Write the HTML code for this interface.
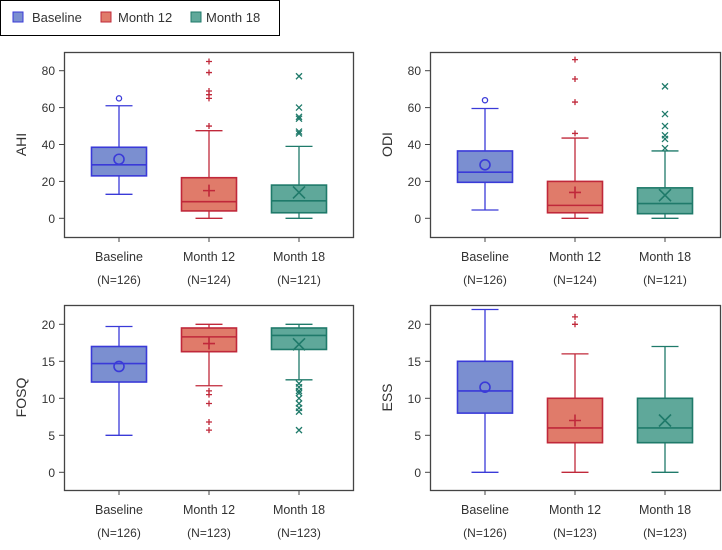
<!DOCTYPE html>
<html><head><meta charset="utf-8"><style>
body{margin:0;background:#fff;width:722px;height:545px;overflow:hidden}
svg text{font-family:"Liberation Sans",sans-serif;fill:#333}
</style></head><body>
<svg id="c" width="722" height="545">
<g>
<rect x="0.5" y="0.5" width="279" height="35" fill="#fff" stroke="#000"/>
<rect x="13" y="12" width="10" height="10" fill="#7b8fd0" stroke="#3a3ad8"/>
<text x="32" y="22" font-size="13">Baseline</text>
<rect x="101" y="12" width="10" height="10" fill="#e07b6a" stroke="#c0283a"/>
<text x="118" y="22" font-size="13">Month 12</text>
<rect x="191" y="12" width="10" height="10" fill="#5fa89a" stroke="#1f7a6a"/>
<text x="206" y="22" font-size="13">Month 18</text>
</g>
</svg>
<script>
const categories=["Baseline","Month 12","Month 18"];
const ahiStats=[[13,23,29,38.5,61],[0,4,9,22,47.5],[0,3,9.5,18,39]];
const ahiMeans=[32,15,14];
const ahiOutliers=[[65],[50,65,67,69,79,85],[46,47,54,55,60,77]];
const ahiN=["(N=126)","(N=124)","(N=121)"];
const odiStats=[[4.5,19.5,25,36.5,59.5],[0,3,7,20,43.5],[0,2.5,8,16.5,36.5]];
const odiMeans=[29,14,12.5];
const odiOutliers=[[64],[46,63,75.5,86],[38,43,45,50,56.5,71.5]];
const odiN=["(N=126)","(N=124)","(N=121)"];
const fosqStats=[[5,12.2,14.7,17,19.7],[11.7,16.3,18.3,19.5,20],[12.5,16.6,18.5,19.5,20]];
const fosqMeans=[14.3,17.4,17.3];
const fosqOutliers=[[],[11,10.5,9.3,6.8,5.7],[12,11.5,11,10.7,10,9.3,8.7,8.2,5.7]];
const fosqN=["(N=126)","(N=123)","(N=123)"];
const essStats=[[0,8,11,15,22],[0,4,6,10,16],[0,4,6,10,17]];
const essMeans=[11.5,7,7];
const essOutliers=[[],[20,21],[]];
const essN=["(N=126)","(N=123)","(N=123)"];
const topTicks=[0,20,40,60,80];
const botTicks=[0,5,10,15,20];

const svg=document.getElementById('c');
const NS="http://www.w3.org/2000/svg";
const fills=["#7b8fd0","#e07b6a","#5fa89a"],strokes=["#3a3ad8","#c0283a","#1f7a6a"];
function mk(tag,attrs,parent){const e=document.createElementNS(NS,tag);for(const k in attrs)e.setAttribute(k,attrs[k]);(parent||svg).appendChild(e);return e;}
function panel(o){
  const g=mk('g',{});
  
  
  const y=v=>o.y0+(o.y1-o.y0)*(v-o.d0)/(o.d1-o.d0);
  const xs=[o.l+55,o.l+145,o.l+235];
  const fr=mk('rect',{x:o.l+.5,y:o.t+.5,width:o.r-o.l,height:o.b-o.t,fill:'none',stroke:'#444','stroke-width':1.3},g);
  
  
  o.ticks.forEach(t=>{
    mk('line',{x1:o.l-5,x2:o.l,y1:y(t),y2:y(t),stroke:'#444'},g);
    const tx=mk('text',{x:o.l-9,y:y(t)+4.5,'text-anchor':'end','font-size':12},g);tx.textContent=t;
    
    
  });
  const yl=mk('text',{x:0,y:0,transform:`translate(${o.l-38},${(o.t+o.b)/2}) rotate(-90)`,'text-anchor':'middle','font-size':14},g);
  yl.textContent=o.name.toUpperCase();
  
  
  categories.forEach((c,i)=>{
    const x=xs[i],s=o.stats[i],f=fills[i],st=strokes[i];
    mk('line',{x1:x,x2:x,y1:o.b,y2:o.b+5,stroke:'#444'},g);
    const t1=mk('text',{x:x,y:o.b+24,'text-anchor':'middle','font-size':12.5},g);t1.textContent=c;
    
    
    const t2=mk('text',{x:x,y:o.b+47,'text-anchor':'middle','font-size':12},g);t2.textContent=o.n[i];
    
    
    const bg=mk('g',{stroke:st,'stroke-width':1.3,fill:'none'},g);
    
    
    mk('line',{x1:x,x2:x,y1:y(s[0]),y2:y(s[1])},bg);
    mk('line',{x1:x,x2:x,y1:y(s[3]),y2:y(s[4])},bg);
    mk('line',{x1:x-13.5,x2:x+13.5,y1:y(s[0]),y2:y(s[0])},bg);
    mk('line',{x1:x-13.5,x2:x+13.5,y1:y(s[4]),y2:y(s[4])},bg);
    mk('rect',{x:x-27.5,y:y(s[3]),width:55,height:y(s[1])-y(s[3]),fill:f,'stroke-width':1.6},bg);
    mk('line',{x1:x-27.5,x2:x+27.5,y1:y(s[2]),y2:y(s[2]),'stroke-width':1.6},bg);
    const m=y(o.means[i]);
    if(i==0)mk('circle',{cx:x,cy:m,r:5,'stroke-width':1.6},bg);
    else if(i==1){mk('path',{d:`M${x-6} ${m}H${x+6}M${x} ${m-6}V${m+6}`,'stroke-width':1.6},bg);}
    else mk('path',{d:`M${x-6} ${m-6}L${x+6} ${m+6}M${x+6} ${m-6}L${x-6} ${m+6}`,'stroke-width':1.6},bg);
    o.out[i].forEach(v=>{
      const p=y(v);
      if(i==0)mk('circle',{cx:x,cy:p,r:2.6},bg);
      else if(i==1)mk('path',{d:`M${x-3} ${p}H${x+3}M${x} ${p-3}V${p+3}`},bg);
      else mk('path',{d:`M${x-3} ${p-3}L${x+3} ${p+3}M${x+3} ${p-3}L${x-3} ${p+3}`},bg);
    });
  });
}
panel({name:'ahi',l:64,r:353,t:52,b:237,y0:218.3,y1:70.7,d0:0,d1:80,ticks:topTicks,stats:ahiStats,means:ahiMeans,out:ahiOutliers,n:ahiN});
panel({name:'odi',l:430,r:720,t:52,b:237,y0:218.3,y1:70.7,d0:0,d1:80,ticks:topTicks,stats:odiStats,means:odiMeans,out:odiOutliers,n:odiN});
panel({name:'fosq',l:64,r:353,t:305,b:490,y0:472.3,y1:324.3,d0:0,d1:20,ticks:botTicks,stats:fosqStats,means:fosqMeans,out:fosqOutliers,n:fosqN});
panel({name:'ess',l:430,r:720,t:305,b:490,y0:472.3,y1:324.3,d0:0,d1:20,ticks:botTicks,stats:essStats,means:essMeans,out:essOutliers,n:essN});
</script>
</body></html>
